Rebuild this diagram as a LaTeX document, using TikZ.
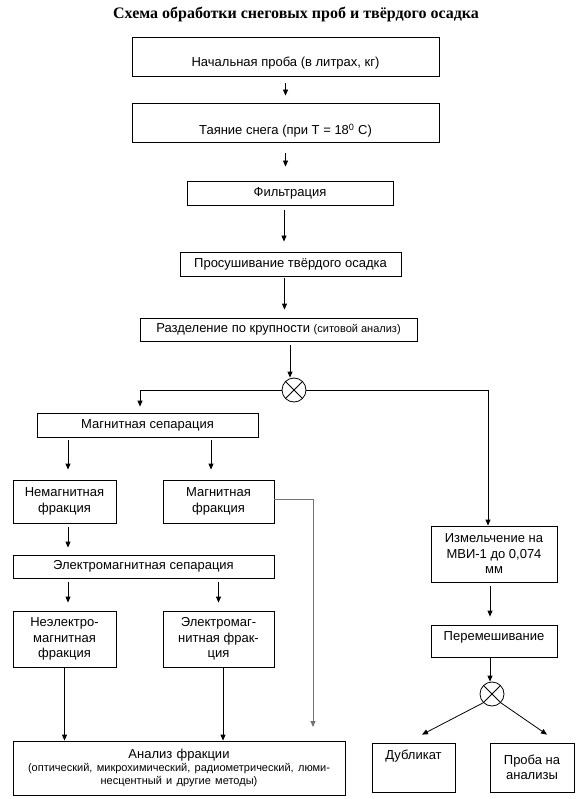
\documentclass[tikz,border=0pt]{standalone}
\usepackage{fontspec}
\setmainfont{Liberation Sans}
\newfontfamily\titlefont{Liberation Serif}
\usetikzlibrary{arrows.meta}

\tikzset{
  box/.style={draw, line width=0.8pt, inner sep=0pt, align=center,
    font=\fontsize{13}{15.5}\selectfont},
  arr/.style={line width=0.8pt, -{Triangle[length=6pt,width=5pt]}},
  knot/.style={draw, circle, line width=0.8pt, minimum size=24pt, inner sep=0pt,
    path picture={\draw[line width=0.8pt]
      (path picture bounding box.north west) -- (path picture bounding box.south east)
      (path picture bounding box.north east) -- (path picture bounding box.south west);}},
}

\begin{document}
\begin{tikzpicture}[x=1pt,y=-1pt]
\useasboundingbox (0,0) rectangle (582,799);

\node[font=\titlefont\bfseries\fontsize{16}{18}\selectfont] (title) at (296,14) {Схема обработки снеговых проб и твёрдого осадка};

%main column
\node[box, minimum width=307, minimum height=39, text height=20pt, text depth=0pt] (start) at (285.5,56.5) {Начальная проба (в литрах, кг)};
\node[box, minimum width=307, minimum height=39, text height=24pt, text depth=0pt] (melt) at (285.5,122.5) {Таяние снега (при Т = 18\textsuperscript{0} С)};
\node[box, minimum width=206, minimum height=24] (filt) at (290,193) {Фильтрация};
\node[box, minimum width=221, minimum height=24] (dry) at (290.5,264) {Просушивание твёрдого осадка};
\node[box, minimum width=277, minimum height=23] (sieve) at (278.5,329.5) {Разделение по крупности {\fontsize{11}{12}\selectfont(ситовой анализ)}};
\node[knot] (split) at (294,390) {};

\draw[arr, shorten <=7pt, shorten >=7pt] (start) -- (melt);
\draw[arr, shorten <=11pt, shorten >=14pt] (melt.south) -- (melt.south |- filt.north);
\draw[arr, shorten <=5pt, shorten >=10pt] ([xshift=-6pt]filt.south) -- ([xshift=-6pt]filt.south |- dry.north);
\draw[arr, shorten <=2pt, shorten >=8pt] ([xshift=-6pt]dry.south) -- ([xshift=-6pt]dry.south |- sieve.north);
\draw[arr, shorten <=4pt] ([xshift=-4pt]split.north |- sieve.south) -- ([xshift=-4pt]split.north);

%left column
\node[box, minimum width=221, minimum height=24] (magsep) at (147.5,425) {Магнитная сепарация};
\node[box, minimum width=103, minimum height=43] (nonmag) at (64.5,501.5) {Немагнитная\\фракция};
\node[box, minimum width=111, minimum height=43] (mag) at (218.5,501.5) {Магнитная\\фракция};
\node[box, minimum width=261, minimum height=23] (elsep) at (143.5,566.5) {Электромагнитная сепарация};
\node[box, minimum width=103, minimum height=56] (nelfr) at (64.5,639) {Неэлектро-\\магнитная\\фракция};
\node[box, minimum width=111, minimum height=56] (elfr) at (218.5,639) {Электромаг-\\нитная фрак-\\ция};
\node[box, minimum width=332, minimum height=54, text width=330pt] (analysis) at (179,768) {Анализ фракции\\
  {\fontsize{11}{13}\selectfont(оптический, микрохимический, радиометрический, люми-\\несцентный и другие методы)\par}};
\coordinate (magend) at (313,727);

\draw[arr, shorten >=6pt] (split.west) -| ([xshift=-7.5pt]magsep.north);
\draw[arr, shorten <=3pt, shorten >=10pt] ([xshift=3.5pt]nonmag.north |- magsep.south) -- ([xshift=3.5pt]nonmag.north);
\draw[arr, shorten <=3pt, shorten >=10pt] ([xshift=-7.5pt]mag.north |- magsep.south) -- ([xshift=-7.5pt]mag.north);
\draw[arr, black!55] ([yshift=2pt]mag.east) -| (magend);
\draw[arr, shorten <=4pt, shorten >=7pt] ([xshift=3.5pt]nonmag.south) -- ([xshift=3.5pt]nonmag.south |- elsep.north);
\draw[arr, shorten <=4pt, shorten >=8pt] ([xshift=3.5pt]nelfr.north |- elsep.south) -- ([xshift=3.5pt]nelfr.north);
\draw[arr, shorten <=4pt, shorten >=8pt] (elfr.north |- elsep.south) -- (elfr.north);
\draw[arr] (nelfr.south) -- (nelfr.south |- analysis.north);
\draw[arr] ([xshift=4.5pt]elfr.south) -- ([xshift=4.5pt]elfr.south |- analysis.north);

%right column
\node[box, minimum width=126, minimum height=56] (grind) at (494,554) {Измельчение на\\МВИ-1 до 0,074\\мм};
\node[box, minimum width=126, minimum height=32, text height=0pt, text depth=1pt] (mix) at (494,641) {Перемешивание};
\node[knot] (split2) at (492,694) {};
\node[box, minimum width=83, minimum height=49, text height=0pt, text depth=16pt] (dup) at (413.5,767.5) {Дубликат};
\node[box, minimum width=84, minimum height=49] (probe) at (532,767.5) {Проба на\\анализы};

\draw[arr] (split.east) -| ([xshift=-6pt]grind.north);
\draw[arr, shorten <=4pt, shorten >=8pt] ([xshift=-4pt]grind.south) -- ([xshift=-4pt]grind.south |- mix.north);
\draw[arr] ([xshift=-2pt]split2.north |- mix.south) -- ([xshift=-2pt]split2.north);
\draw[arr] (split2.south west) -- ([xshift=8.5pt,yshift=8pt]dup.north);
\draw[arr] (split2.south east) -- ([xshift=15pt,yshift=8pt]probe.north);

\end{tikzpicture}
\end{document}
